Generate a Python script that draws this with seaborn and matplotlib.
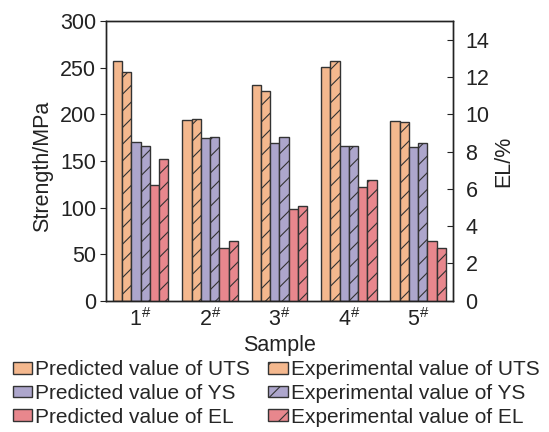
import matplotlib
matplotlib.use("Agg")
import matplotlib.pyplot as plt
import seaborn as sns
import pandas as pd
from matplotlib.patches import Patch

samples = ["1", "2", "3", "4", "5"]
uts_pred = [257, 194, 231, 251, 193]
uts_exp = [245, 195, 225, 257, 192]
ys_pred = [170, 175, 169, 166, 165]
ys_exp = [166, 176, 176, 166, 169]
el_pred = [6.2, 2.8, 4.9, 6.1, 3.2]
el_exp = [7.6, 3.2, 5.1, 6.5, 2.8]

series = ["Predicted value of UTS", "Experimental value of UTS",
          "Predicted value of YS", "Experimental value of YS",
          "Predicted value of EL", "Experimental value of EL"]
colors = ["#F4B88E", "#F4B88E", "#ADA6CC", "#ADA6CC", "#E8878D", "#E8878D"]
hatched = [False, True, False, True, False, True]
palette = dict(zip(series, colors))

labels = [s + "$^{\\#}$" for s in samples]

strength_rows = []
for vals, name in zip([uts_pred, uts_exp, ys_pred, ys_exp], series[:4]):
    for lab, v in zip(labels, vals):
        strength_rows.append({"Sample": lab, "value": v, "series": name})
el_rows = []
for vals, name in zip([el_pred, el_exp], series[4:]):
    for lab, v in zip(labels, vals):
        el_rows.append({"Sample": lab, "value": v, "series": name})
df_s = pd.DataFrame(strength_rows)
df_e = pd.DataFrame(el_rows)

sns.set_style("ticks")
plt.rcParams["font.family"] = ["Liberation Sans", "DejaVu Sans"]
plt.rcParams["mathtext.fontset"] = "custom"
plt.rcParams["mathtext.rm"] = "Liberation Sans"
plt.rcParams["mathtext.it"] = "Liberation Sans"
plt.rcParams["hatch.color"] = "#333333"
plt.rcParams["hatch.linewidth"] = 0.8

fig = plt.figure(figsize=(5.49, 4.32), dpi=100)
ax = fig.add_axes([0.193, 0.304, 0.632, 0.647])
ax2 = ax.twinx()

sns.barplot(data=df_s, x="Sample", y="value", hue="series", hue_order=series,
            order=labels, palette=palette, width=0.8, ax=ax, legend=False,
            edgecolor="#333333", linewidth=1.0, saturation=1, errorbar=None)
sns.barplot(data=df_e, x="Sample", y="value", hue="series", hue_order=series,
            order=labels, palette=palette, width=0.8, ax=ax2, legend=False,
            edgecolor="#333333", linewidth=1.0, saturation=1, errorbar=None)

for a in (ax, ax2):
    for i, cont in enumerate(a.containers):
        if i % 2 == 1:
            for p in cont:
                p.set_hatch("//")

ax.set_xlim(-0.5, 4.5)
ax.set_ylim(0, 300)
ax2.set_ylim(0, 15)
ax.set_yticks(range(0, 301, 50))
ax2.set_yticks(range(0, 15, 2))

fs = 15.5
tc = "#222222"
ax.set_ylabel("Strength/MPa", fontsize=fs, color=tc)
ax.yaxis.set_label_coords(-0.153, 0.48)
ax2.set_ylabel("EL/%", fontsize=fs, color=tc)
ax2.yaxis.set_label_coords(1.115, 0.498)
ax.set_xlabel("Sample", fontsize=fs, color=tc, labelpad=3)
ax.tick_params(axis="y", direction="out", labelsize=fs, length=4, colors=tc, pad=3)
ax.tick_params(axis="x", length=0, labelsize=fs, colors=tc, pad=5)
ax2.tick_params(axis="y", direction="in", labelsize=fs, length=4, colors=tc, pad=9)
for a in (ax, ax2):
    for sp in a.spines.values():
        sp.set_visible(True)
        sp.set_color(tc)
        sp.set_linewidth(1.0)

handles = []
order = [0, 2, 4, 1, 3, 5]
for i in order:
    handles.append(Patch(facecolor=colors[i], edgecolor="#333333",
                         hatch=("/" if hatched[i] else ""),
                         linewidth=1.0, label=series[i]))
fig.legend(handles=handles, ncol=2, loc="upper center", bbox_to_anchor=(0.503, 0.19),
           frameon=False, fontsize=15, handlelength=0.95, handleheight=0.5,
           handletextpad=0.15, labelspacing=0.22, columnspacing=0.85, borderpad=0)

fig.savefig("out.png", dpi=100)
